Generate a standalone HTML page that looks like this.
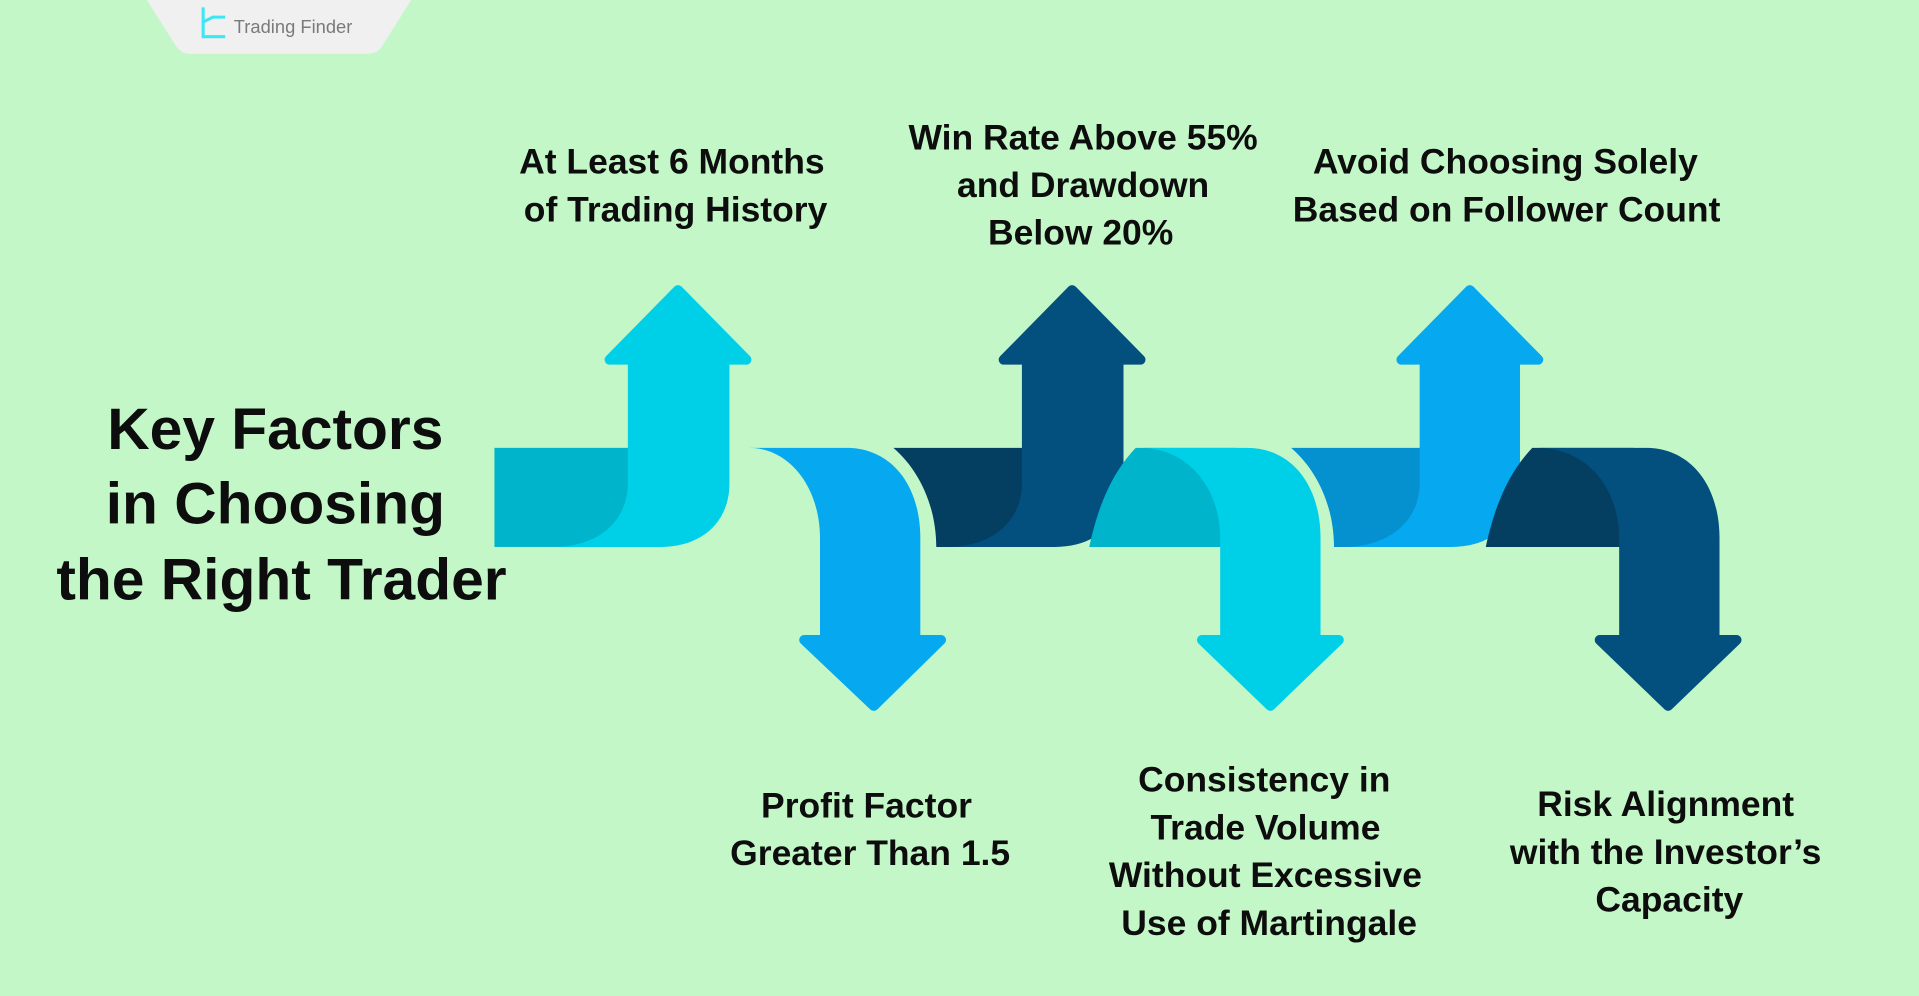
<!DOCTYPE html>
<html><head><meta charset="utf-8"><style>
html,body{margin:0;padding:0;background:#C4F7C8;}
svg{display:block;}
</style></head><body>
<svg width="1919" height="996" viewBox="0 0 1568 814" preserveAspectRatio="none" xmlns="http://www.w3.org/2000/svg">
<rect width="1568" height="814" fill="#C4F7C8"/>
<!-- logo tab -->
<path d="M120,0 L336,0 L312,38 Q308,44 300,44 L156,44 Q148,44 144,38 Z" fill="#EFF0EF"/>
<path d="M166,6 L166,30 L184,30 M166,18 L174,14 L184,14" fill="none" stroke="#3CE6F4" stroke-width="2.5"/>
<text x="191" y="27" font-family="Liberation Sans, sans-serif" font-size="15" fill="#7a7a7a">Trading Finder</text>

<g stroke-linejoin="round" stroke-width="8">
<!-- Arrow 1 up cyan -->
<rect x="404" y="366" width="136" height="81" fill="#00B4CC"/>
<path d="M513,296 L596,296 L596,395 C596,428 572,447 540,447 L452,447 C490,447 513,425 513,395 Z" fill="#00CFE8"/>
<polygon points="498,294 554,237 610,294" fill="#00CFE8" stroke="#00CFE8"/>
<!-- Arrow 2 down blue -->
<path d="M612,366 L692,366 C727,366 752,395 752,440 L752,524 L670,524 L670,440 C670,398 645,366 612,366 Z" fill="#06A9F0"/>
<polygon points="657,523 714,577 769,523" fill="#06A9F0" stroke="#06A9F0"/>
<!-- Arrow 3 up navy -->
<path d="M730,366 L862,366 L862,447 L765,447 C765,415 752,385 730,366 Z" fill="#043F62"/>
<path d="M835,296 L918,296 L918,395 C918,428 894,447 862,447 L774,447 C812,447 835,425 835,395 Z" fill="#03507E"/>
<polygon points="820,294 876,237 932,294" fill="#03507E" stroke="#03507E"/>
<!-- Arrow 4 down cyan -->
<path d="M928,366 L1010,366 L1010,447 L890,447 C898,410 910,385 928,366 Z" fill="#00B4CC"/>
<path d="M932,366 L1019,366 C1054,366 1079,395 1079,440 L1079,524 L997,524 L997,440 C997,398 970,366 932,366 Z" fill="#00CFE8"/>
<polygon points="982,523 1038,577 1094,523" fill="#00CFE8" stroke="#00CFE8"/>
<!-- Arrow 5 up blue -->
<path d="M1055,366 L1186,366 L1186,447 L1090,447 C1090,415 1077,385 1055,366 Z" fill="#0590D0"/>
<path d="M1160,296 L1242,296 L1242,395 C1242,428 1218,447 1186,447 L1098,447 C1136,447 1160,425 1160,395 Z" fill="#06A9F0"/>
<polygon points="1145,294 1201,237 1257,294" fill="#06A9F0" stroke="#06A9F0"/>
<!-- Arrow 6 down navy -->
<path d="M1252,366 L1335,366 L1335,447 L1214,447 C1222,410 1234,385 1252,366 Z" fill="#043F62"/>
<path d="M1256,366 L1345,366 C1380,366 1405,395 1405,440 L1405,524 L1323,524 L1323,440 C1323,398 1296,366 1256,366 Z" fill="#03507E"/>
<polygon points="1307,523 1363,577 1419,523" fill="#03507E" stroke="#03507E"/>
</g>

<g font-family="Liberation Sans, sans-serif" font-weight="bold" fill="#0d0d0d" text-anchor="middle">
<text font-size="48" x="225" y="367">Key Factors</text>
<text font-size="48" x="225" y="428">in Choosing</text>
<text font-size="48" x="230" y="490">the Right Trader</text>
<g font-size="29">
<text x="549" y="142">At Least 6 Months</text>
<text x="552" y="181">of Trading History</text>
<text x="885" y="122">Win Rate Above 55%</text>
<text x="885" y="161">and Drawdown</text>
<text x="883" y="200">Below 20%</text>
<text x="1230" y="142">Avoid Choosing Solely</text>
<text x="1231" y="181">Based on Follower Count</text>
<text x="708" y="668">Profit Factor</text>
<text x="711" y="707">Greater Than 1.5</text>
<text x="1033" y="647">Consistency in</text>
<text x="1034" y="686">Trade Volume</text>
<text x="1034" y="725">Without Excessive</text>
<text x="1037" y="764">Use of Martingale</text>
<text x="1361" y="667">Risk Alignment</text>
<text x="1361" y="706">with the Investor’s</text>
<text x="1364" y="745">Capacity</text>
</g>
</g>
</svg>
</body></html>
